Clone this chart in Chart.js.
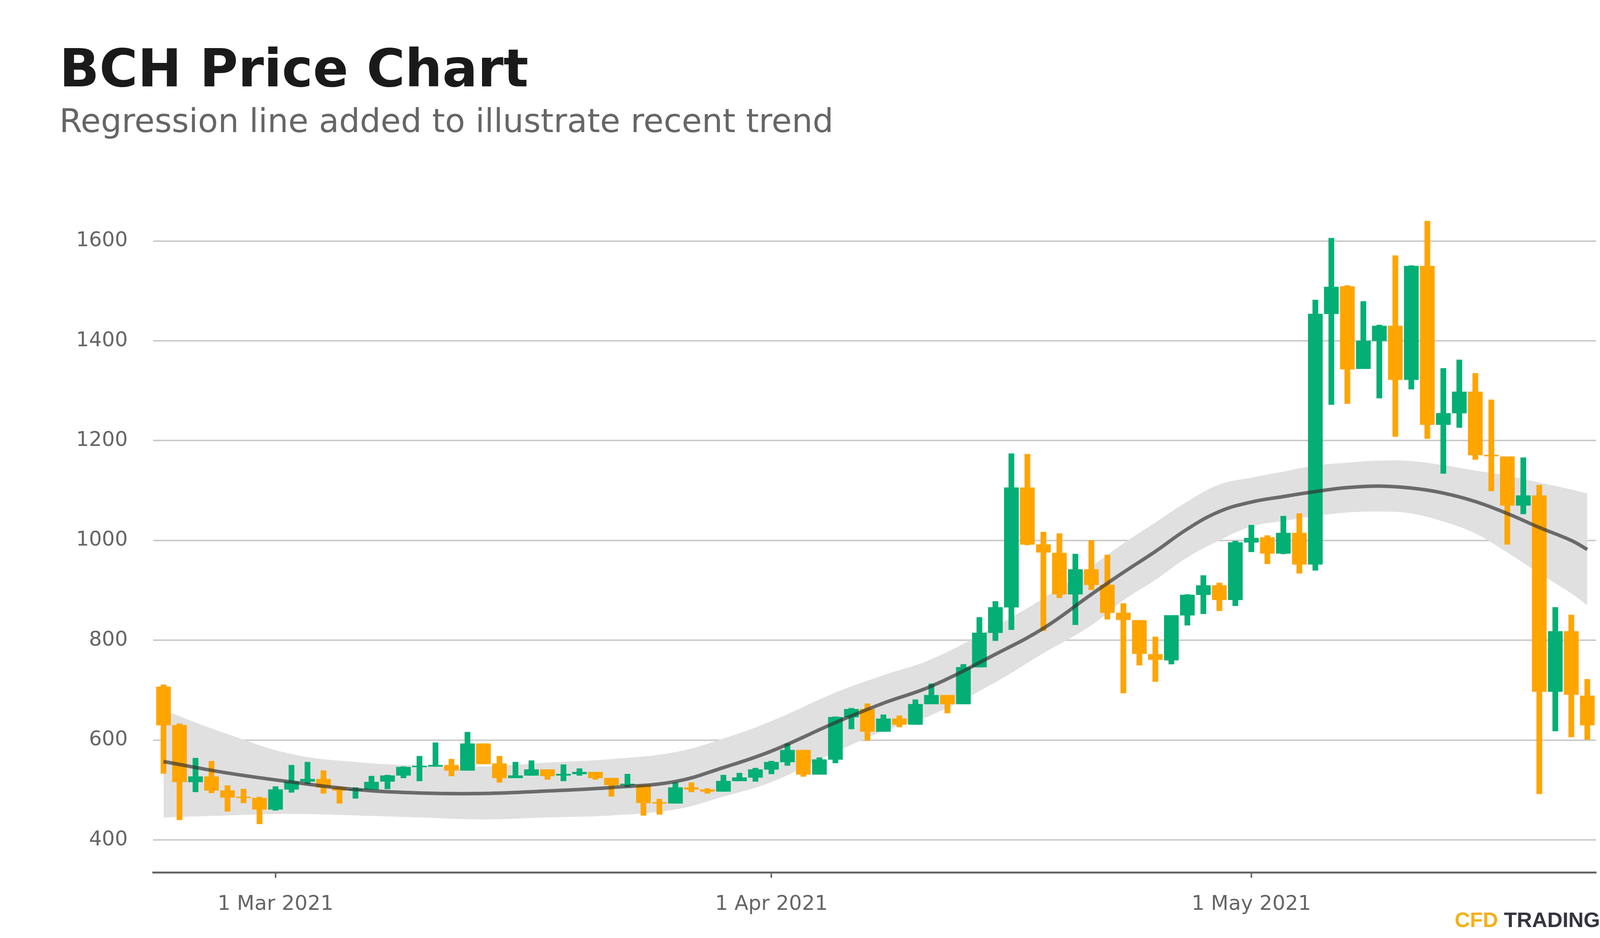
<!DOCTYPE html>
<html>
<head>
<meta charset="utf-8">
<script src="https://cdn.jsdelivr.net/npm/chart.js@4.4.1/dist/chart.umd.min.js"></script>
<style>
  html, body { margin: 0; padding: 0; background: #fff; }
  #wrap { position: relative; width: 4200px; height: 2400px; }
  #chart { position: absolute; left: 0; top: 0; }
  .txt { position: absolute; white-space: nowrap; line-height: 1; }
  #title { left: 152px; top: 97px; font: bold 134px "DejaVu Sans"; color: #1a1a1a; }
  #subtitle { left: 152px; top: 260px; font: 84px "DejaVu Sans"; color: #666666; }
  #logo { left: 3724px; top: 2322px; font: bold 54px "Liberation Sans"; color: #35343f; }
  #logo span { color: #f5b01a; }
</style>
</head>
<body>
<div id="wrap">
  <canvas id="chart" width="4200" height="2400"></canvas>
  <div class="txt" id="title">BCH Price Chart</div>
  <div class="txt" id="subtitle">Regression line added to illustrate recent trend</div>
  <div class="txt" id="logo"><span>CFD</span> TRADING</div>
</div>
<script>
// one candle per day, 22 Feb - 22 May 2021
const dates = [
  '2021-02-22','2021-02-23','2021-02-24','2021-02-25','2021-02-26','2021-02-27','2021-02-28',
  '2021-03-01','2021-03-02','2021-03-03','2021-03-04','2021-03-05','2021-03-06','2021-03-07',
  '2021-03-08','2021-03-09','2021-03-10','2021-03-11','2021-03-12','2021-03-13','2021-03-14',
  '2021-03-15','2021-03-16','2021-03-17','2021-03-18','2021-03-19','2021-03-20','2021-03-21',
  '2021-03-22','2021-03-23','2021-03-24','2021-03-25','2021-03-26','2021-03-27','2021-03-28',
  '2021-03-29','2021-03-30','2021-03-31','2021-04-01','2021-04-02','2021-04-03','2021-04-04',
  '2021-04-05','2021-04-06','2021-04-07','2021-04-08','2021-04-09','2021-04-10','2021-04-11',
  '2021-04-12','2021-04-13','2021-04-14','2021-04-15','2021-04-16','2021-04-17','2021-04-18',
  '2021-04-19','2021-04-20','2021-04-21','2021-04-22','2021-04-23','2021-04-24','2021-04-25',
  '2021-04-26','2021-04-27','2021-04-28','2021-04-29','2021-04-30','2021-05-01','2021-05-02',
  '2021-05-03','2021-05-04','2021-05-05','2021-05-06','2021-05-07','2021-05-08','2021-05-09',
  '2021-05-10','2021-05-11','2021-05-12','2021-05-13','2021-05-14','2021-05-15','2021-05-16',
  '2021-05-17','2021-05-18','2021-05-19','2021-05-20','2021-05-21','2021-05-22'
];

const open = [
  707, 630, 516, 527, 499, 485, 484, 461, 501, 517, 522, 505, 499, 501, 517,
  529, 546, 547, 550, 539, 593, 553, 524, 529, 541, 529, 532, 536, 524, 510,
  510, 474, 473, 505, 501, 497, 518, 525, 541, 556, 580, 531, 561, 646, 662,
  617, 643, 631, 672, 690, 672, 746, 815, 866, 1106, 992, 975, 892, 942, 911,
  855, 840, 772, 760, 850, 891, 910, 881, 996, 1006, 974, 1015, 952, 1454, 1509,
  1344, 1400, 1430, 1322, 1550, 1232, 1255, 1298, 1170, 1168, 1070, 1090, 697, 818, 689
];
const high = [
  711, 633, 564, 558, 509, 502, 486, 507, 550, 556, 539, 507, 505, 528, 530,
  547, 568, 595, 562, 616, 593, 568, 556, 559, 541, 551, 543, 536, 524, 532,
  510, 482, 515, 515, 503, 530, 534, 544, 558, 593, 580, 565, 647, 664, 673,
  651, 649, 681, 713, 690, 752, 846, 878, 1174, 1173, 1017, 1014, 973, 1000, 971,
  874, 840, 807, 850, 892, 930, 915, 999, 1031, 1010, 1049, 1054, 1482, 1606, 1511,
  1479, 1432, 1571, 1551, 1640, 1345, 1362, 1335, 1282, 1168, 1166, 1111, 866, 851, 722
];
const low = [
  533, 440, 496, 494, 457, 474, 432, 459, 495, 512, 493, 473, 483, 501, 502,
  524, 518, 547, 528, 539, 552, 515, 524, 529, 521, 518, 529, 521, 487, 506,
  449, 451, 473, 496, 493, 497, 518, 517, 532, 549, 527, 531, 554, 622, 599,
  617, 626, 631, 672, 654, 672, 746, 799, 821, 991, 819, 885, 831, 901, 842,
  694, 750, 717, 752, 830, 853, 859, 869, 977, 953, 973, 934, 940, 1272, 1274,
  1344, 1285, 1208, 1303, 1204, 1134, 1226, 1162, 1099, 992, 1053, 492, 618, 606, 601
];
const close = [
  630, 516, 527, 499, 485, 484, 461, 501, 517, 522, 505, 499, 501, 516, 529,
  546, 547, 550, 539, 593, 552, 524, 529, 541, 528, 532, 536, 524, 510, 511,
  474, 473, 505, 501, 497, 518, 525, 541, 556, 580, 531, 561, 646, 662, 617,
  643, 631, 672, 690, 672, 746, 815, 866, 1106, 992, 976, 892, 942, 911, 855,
  841, 773, 761, 850, 891, 910, 881, 996, 1005, 974, 1015, 952, 1454, 1508, 1343,
  1400, 1430, 1322, 1550, 1232, 1255, 1298, 1171, 1169, 1070, 1090, 697, 818, 691, 630
];

// smoothed trend and its confidence band, read at these day indexes
const trendIdx = [0, 4, 8, 12, 16, 20, 24, 28, 32, 35, 38, 42, 45, 48, 52, 55, 58, 60,
                  62, 64, 66, 68, 70, 72, 74, 76, 78, 80, 82, 84, 86, 88, 89];
const trendMid = [557, 534, 516, 501, 494, 493, 498, 505, 517, 545, 578, 635, 674, 708, 772, 824, 892, 936,
                  978, 1023, 1058, 1077, 1088, 1098, 1106, 1109, 1105, 1095, 1078, 1054, 1026, 1000, 982];
const trendLo  = [445, 449, 452, 449, 445, 441, 445, 449, 461, 487, 516, 576, 618, 650, 716, 774, 830, 880,
                  921, 966, 1000, 1028, 1039, 1049, 1056, 1058, 1054, 1038, 1014, 976, 934, 894, 870];
const trendHi  = [660, 612, 572, 556, 549, 547, 555, 562, 576, 603, 638, 695, 730, 762, 828, 884, 948, 994,
                  1036, 1078, 1112, 1126, 1138, 1150, 1156, 1160, 1159, 1151, 1140, 1130, 1116, 1102, 1094];

const yTicks = [400, 600, 800, 1000, 1200, 1400, 1600];
const xTickDates = ['2021-03-01', '2021-04-01', '2021-05-01'];
const xTickLabels = ['1 Mar 2021', '1 Apr 2021', '1 May 2021'];

const GREEN = '#03af74';
const ORANGE = '#ffa500';
const candleColors = close.map((c, i) => c >= open[i] ? GREEN : ORANGE);

const font = { family: 'DejaVu Sans', size: 52 };
const ctx = document.getElementById('chart');

new Chart(ctx, {
  type: 'bar',
  data: {
    datasets: [
      {
        type: 'line',
        data: trendIdx.map((d, k) => ({ x: d, y: trendHi[k] })),
        borderWidth: 0,
        pointRadius: 0,
        fill: false,
        tension: 0.4,
        order: 3
      },
      {
        type: 'line',
        data: trendIdx.map((d, k) => ({ x: d, y: trendLo[k] })),
        borderWidth: 0,
        pointRadius: 0,
        fill: '-1',
        backgroundColor: '#e0e0e0',
        tension: 0.4,
        order: 3
      },
      {
        label: 'wick',
        data: dates.map((d, i) => ({ x: i, y: [low[i], high[i]] })),
        backgroundColor: candleColors,
        barThickness: 14,
        grouped: false,
        order: 2
      },
      {
        label: 'body',
        data: dates.map((d, i) => ({ x: i, y: [open[i], close[i]] })),
        backgroundColor: candleColors,
        barThickness: 37,
        minBarLength: 3,
        grouped: false,
        order: 2
      },
      {
        type: 'line',
        data: trendIdx.map((d, k) => ({ x: d, y: trendMid[k] })),
        borderColor: 'rgba(50,50,50,0.68)',
        borderWidth: 9,
        pointRadius: 0,
        fill: false,
        tension: 0.4,
        order: 1
      }
    ]
  },
  options: {
    responsive: false,
    devicePixelRatio: 1,
    animation: false,
    layout: { padding: { left: 0, right: 114, top: 489, bottom: 0 } },
    plugins: { legend: { display: false }, tooltip: { enabled: false } },
    scales: {
      x: {
        type: 'linear',
        min: -0.65,
        max: 89.55,
        offset: false,
        afterBuildTicks: s => { s.ticks = xTickDates.map(d => ({ value: dates.indexOf(d) })); },
        afterFit: s => { s.height = 168; },
        grid: { offset: false, drawOnChartArea: false, drawTicks: true, tickLength: 14, tickWidth: 4, tickColor: '#666666' },
        border: { display: true, color: '#666666', width: 5 },
        ticks: {
          padding: 37,
          color: '#666666',
          font: font,
          maxRotation: 0,
          autoSkip: false,
          callback: (v, i) => xTickLabels[i]
        }
      },
      y: {
        min: 335,
        max: 1700,
        afterBuildTicks: s => { s.ticks = yTicks.map(v => ({ value: v })); },
        afterFit: s => { s.width = 392; },
        grid: { color: '#cccccc', lineWidth: 4, drawTicks: false },
        border: { display: false },
        ticks: { padding: 65, color: '#666666', font: font, callback: v => String(v) }
      }
    }
  }
});
</script>
</body>
</html>
